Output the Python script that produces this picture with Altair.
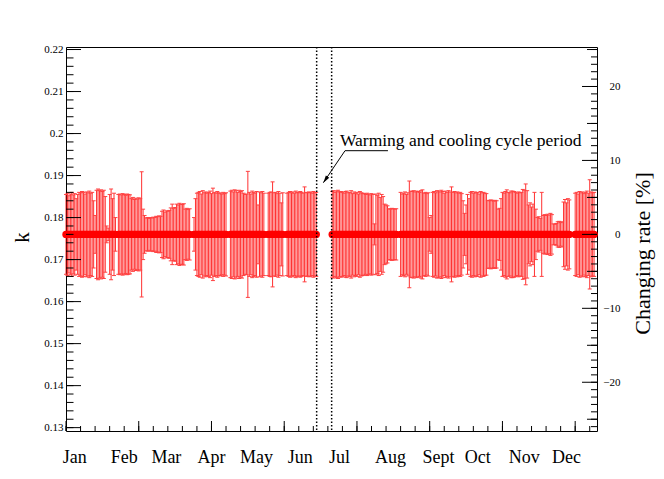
import altair as alt
import pandas as pd

# ---------------- data ----------------
# day-of-year segments (gaps between them are missing days)
seg_start = [0, 36, 88, 113, 139, 152, 183, 230, 350]
# half error (in units of 0.001 of k) for each consecutive day of a segment
seg_err = [
    [9.5, 9.8, 9.2, 9.6, 10.0, 9.4, 9.7, 8.5, 9.5,
     10.0, 9.9, 10.2, 10.0, 9.6, 10.1, 9.9, 10.3, 9.8, 10.0,
     8.0, 4.5,
     10.5, 10.8, 10.4, 10.6, 10.2, 10.5, 9.0,
     2.0, 1.5,
     9.5, 10.8, 8.5, 9.8, 4.0],
    [9.5, 9.6, 9.4, 9.7, 9.5, 9.3, 9.6, 9.5, 9.4,
     8.5, 8.8, 8.3, 8.6, 8.4, 8.7, 8.5,
     14.9,
     6.0, 4.5,
     3.9, 4.0, 3.8, 4.0, 3.9, 4.1, 4.0,
     4.3, 4.2, 4.4, 4.3,
     5.5, 5.8, 5.3, 5.6, 5.5, 5.7,
     6.3, 7.2, 6.2, 6.4,
     7.2, 7.0, 7.4, 7.2, 7.1, 7.3,
     6.0, 6.2, 5.9, 6.1],
    [4.0, 8.5,
     9.8, 10.0, 10.2, 9.6, 10.4, 9.9, 10.1, 9.8,
     10.0, 10.3, 9.7, 11.0, 10.0, 9.8, 10.2, 9.9,
     9.8, 9.6, 10.0, 9.7, 9.9],
    [10.3, 10.5, 10.1, 10.6, 10.4, 10.0, 10.5, 10.2, 10.4, 9.8, 9.5, 9.6,
     15.0,
     10.0, 9.6, 10.3, 10.0, 9.8, 10.2, 7.0, 10.1, 9.9, 10.2, 9.8],
    [9.8, 10.0, 10.1, 12.5, 9.9, 10.0, 9.7, 10.2, 9.8, 7.5, 9.9],
    [9.8, 10.0, 10.2, 9.9, 10.1, 9.8, 10.3, 10.0, 9.9, 10.2, 10.0, 9.8,
     11.3, 10.0, 9.9, 10.1, 10.0, 9.8, 10.2, 9.9, 10.0],
    [10.2, 10.4, 10.0, 10.3, 10.5, 10.1, 10.2,
     10.0, 9.8, 10.2, 10.3, 9.9, 10.0, 10.4, 9.7, 10.1, 9.8, 10.0, 9.6, 10.2, 9.9, 9.8,
     9.7, 9.5, 9.8, 9.6, 9.4, 9.7, 9.5,
     2.5,
     9.6, 9.3, 9.8, 8.8, 9.5, 9.0,
     7.2, 7.0, 6.8,
     6.1, 6.0, 6.2, 6.1, 6.0, 6.1],
    [10.0, 9.6, 9.8, 10.1, 9.5, 9.9, 12.7,
     10.3, 10.2, 10.4, 10.1, 10.3, 10.2, 10.0, 10.4,
     10.6, 9.8, 10.0, 9.7, 9.9,
     4.0, 4.5,
     10.0, 10.2, 9.9, 10.4, 10.3, 10.1, 10.5, 10.2, 9.8, 10.3, 10.0, 10.4, 10.1, 11.3,
     10.0, 10.2, 9.9, 10.1, 9.8, 10.0, 9.7,
     8.0, 5.0, 7.0, 9.5, 8.5,
     10.0, 10.2, 9.8, 10.1, 9.9, 10.0, 9.6, 10.2, 9.9, 10.0, 9.8, 9.7,
     8.1, 8.0, 8.2, 8.1, 7.9, 8.1, 8.0,
     6.0, 6.2, 8.5,
     10.0, 9.8, 10.2, 10.6, 10.0, 9.9, 10.3,
     10.3, 10.2, 10.0, 9.8, 10.1, 9.9, 10.0, 10.7, 10.5, 12.0, 10.4,
     7.0, 7.5, 6.5, 7.2,
     10.0, 6.0,
     4.0, 4.2, 3.8,
     10.0, 4.5,
     4.7, 4.5, 4.8, 4.6, 5.0, 4.7,
     2.5, 2.4, 2.6,
     3.0, 3.1, 2.8, 3.0,
     7.7, 8.3, 7.5,
     8.5, 8.2],
    [9.8, 10.0, 9.6, 10.2, 9.9, 10.1, 9.7, 10.0, 10.3, 9.8, 13.0, 10.1, 9.9, 10.0],
]
K_CENTER = 0.176          # central value of k for every day

month_names = ["Jan", "Feb", "Mar", "Apr", "May", "Jun",
               "Jul", "Aug", "Sept", "Oct", "Nov", "Dec"]
month_label_day = [6, 40, 69, 100, 131, 161, 188, 223, 256, 283, 315, 344]

k_ticks = [0.13, 0.14, 0.15, 0.16, 0.17, 0.18, 0.19, 0.20, 0.21, 0.22]
rate_ticks = [-20, -10, 0, 10, 20]

K_LO, K_HI = 0.1292, 0.2206
DAY_LO, DAY_HI = 0, 365

cycle_lines = [172.3, 182.6]
note_text = "Warming and cooling cycle period"
note_day, note_k = 188.3, 0.19704
arrow_day = [221.3, 191.8, 176.9]
arrow_k = [0.19592, 0.19592, 0.1883]

# ---------------- build tables ----------------
days, lo, hi, kc = [], [], [], []
for s, errs in zip(seg_start, seg_err):
    for i, e in enumerate(errs):
        days.append(s + i)
        kc.append(K_CENTER)
        lo.append(K_CENTER - e * 0.001)
        hi.append(K_CENTER + e * 0.001)
df = pd.DataFrame({"day": days, "k": kc, "lo": lo, "hi": hi})

R_LO = (K_LO / K_CENTER - 1) * 100
R_HI = (K_HI / K_CENTER - 1) * 100

W, H = 531, 384
FONT = "Liberation Serif"

xs = alt.Scale(domain=[DAY_LO, DAY_HI], nice=False, zero=False)
ys = alt.Scale(domain=[K_LO, K_HI], nice=False, zero=False)
rs = alt.Scale(domain=[R_LO, R_HI], nice=False, zero=False)

LAXIS = alt.Axis(
    orient="left", values=k_ticks, format=".2~f", ticks=False, tickSize=0,
    domain=False, grid=False, labelFont=FONT, labelFontSize=11,
    labelPadding=3, labelColor="black",
    title="k", titleFont=FONT, titleFontSize=21, titleFontWeight="normal",
    titleColor="black", titleX=-44, titleY=H / 2 - 2, titleAngle=270,
    titleAlign="center", titleBaseline="middle")
RAXIS = alt.Axis(
    orient="right", values=rate_ticks, ticks=False, tickSize=0, domain=False,
    grid=False, labelFont=FONT, labelFontSize=11, labelAlign="right",
    labelPadding=23, labelColor="black",
    title="Changing rate [%]", titleFont=FONT, titleFontSize=22,
    titleFontWeight="normal", titleColor="black", titleX=45, titleY=206,
    titleAngle=270, titleAlign="center", titleBaseline="middle")

XE = alt.X("day:Q", scale=xs, axis=None)

base = alt.Chart(df)

bars = base.mark_rule(color="#ff1a1a", strokeWidth=1, opacity=0.9).encode(
    x=XE, y=alt.Y("lo:Q", scale=ys, axis=LAXIS), y2="hi:Q")
caps_hi = base.mark_rule(color="#ff4040", strokeWidth=1, xOffset=-2, x2Offset=2).encode(
    x=XE, x2="day:Q", y=alt.Y("hi:Q", scale=ys, axis=LAXIS))
caps_lo = base.mark_rule(color="#ff4040", strokeWidth=1, xOffset=-2, x2Offset=2).encode(
    x=XE, x2="day:Q", y=alt.Y("lo:Q", scale=ys, axis=LAXIS))
points = base.mark_circle(color="#ff0000", size=55, opacity=1).encode(
    x=XE, y=alt.Y("k:Q", scale=ys, axis=LAXIS))

# axis tick decorations (inward, ROOT style)
lmaj = pd.DataFrame({"v": [0.13 + 0.01 * i for i in range(10)]})
lmin = pd.DataFrame({"v": [0.13 + 0.002 * i for i in range(46)]})
bmaj = pd.DataFrame({"v": [50 * i for i in range(8)]})
bmin = pd.DataFrame({"v": [10 * i for i in range(37)]})
rmaj = pd.DataFrame({"v": [-20, -10, 0, 10, 20]})
rmid = pd.DataFrame({"v": [-25, -15, -5, 5, 15, 25]})
rmin = pd.DataFrame({"v": list(range(-26, 26))})

def ltick(d, n):
    return alt.Chart(d).mark_rule(color="black", strokeWidth=1).encode(
        y=alt.Y("v:Q", scale=ys, axis=LAXIS), x=alt.value(0), x2=alt.value(n))

def btick(d, n):
    return alt.Chart(d).mark_rule(color="black", strokeWidth=1).encode(
        x=alt.X("v:Q", scale=xs, axis=None), y=alt.value(H), y2=alt.value(H - n))

cycle = alt.Chart(pd.DataFrame({"d": cycle_lines})).mark_rule(
    color="black", strokeWidth=1.5, strokeDash=[1.5, 2]).encode(
    x=alt.X("d:Q", scale=xs, axis=None))

note = alt.Chart(pd.DataFrame({"d": [note_day], "k": [note_k], "t": [note_text]})).mark_text(
    font=FONT, fontSize=17.5, align="left", baseline="alphabetic", color="black").encode(
    x=alt.X("d:Q", scale=xs, axis=None), y=alt.Y("k:Q", scale=ys, axis=LAXIS), text="t:N")

arr_df = pd.DataFrame({"d": arrow_day, "k": arrow_k, "o": [0, 1, 2]})
arrow_line = alt.Chart(arr_df).mark_line(color="black", strokeWidth=1).encode(
    x=alt.X("d:Q", scale=xs, axis=None), y=alt.Y("k:Q", scale=ys, axis=LAXIS), order="o:Q")
arrow_head = alt.Chart(arr_df.tail(1)).mark_point(
    shape="M0,0 L-0.28,1 L0.28,1 Z", filled=True, color="black", size=220,
    angle=214.5, opacity=1).encode(
    x=alt.X("d:Q", scale=xs, axis=None), y=alt.Y("k:Q", scale=ys, axis=LAXIS))

months = alt.Chart(pd.DataFrame({"d": month_label_day, "m": month_names})).mark_text(
    font=FONT, fontSize=18, baseline="middle", align="center", color="black").encode(
    x=alt.X("d:Q", scale=xs, axis=None), y=alt.value(H + 27), text="m:N")

left = alt.layer(bars, caps_hi, caps_lo, points,
                 ltick(lmaj, 15), ltick(lmin, 7.5), btick(bmaj, 10), btick(bmin, 5),
                 cycle, note, arrow_line, arrow_head, months)

def rtick(d, n):
    return alt.Chart(d).mark_rule(color="black", strokeWidth=1).encode(
        y=alt.Y("v:Q", scale=rs, axis=RAXIS), x=alt.value(W), x2=alt.value(W - n))

right = alt.layer(rtick(rmaj, 15), rtick(rmid, 10), rtick(rmin, 6))

chart = alt.layer(left, right).resolve_scale(y="independent").properties(
    width=W, height=H,
    autosize=alt.AutoSizeParams(type="none"),
    padding={"left": 58, "top": 39, "right": 59, "bottom": 40},
    background="white",
).configure_view(stroke="black", strokeWidth=1)

chart.save("out.html", embed_options={"renderer": "svg", "actions": False})
